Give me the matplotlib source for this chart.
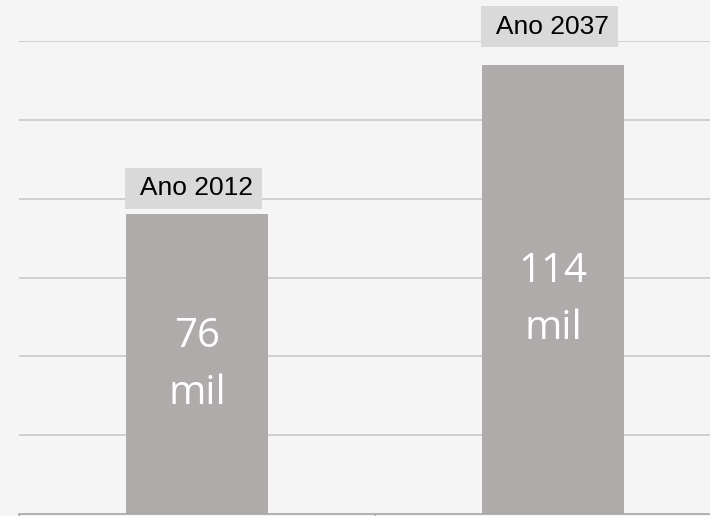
import numpy as np
import matplotlib.pyplot as plt

years = ['Ano 2012', 'Ano 2037']
values = [76, 114]
units = ['mil', 'mil']

bg = '#f5f5f5'
bar_color = '#afabaa'
label_pad = [26, 38]  # px between bar top and label box centre
text_shift = [10, 0]  # px the value text sits above the bar middle

fig = plt.figure(figsize=(7.1, 5.16), dpi=100, facecolor=bg)
ax = fig.add_axes([19/710, 2/516, 712/710, 473/516], facecolor=bg)

x = np.arange(len(values))
ax.bar(x, values, width=0.4, color=bar_color, zorder=2)

ax.set_xlim(-0.5, 1.5)
ax.set_ylim(0, 120)
ax.set_yticks(np.arange(20, 121, 20))
ax.yaxis.grid(True, color='#c6c6c6', linewidth=1.1, zorder=0)
ax.tick_params(axis='y', left=False, labelleft=False)
ax.set_xticks([-0.5, 0.5, 1.5])
ax.tick_params(axis='x', labelbottom=False, length=4, color='#a6a6a6', width=1)
for s in ['top', 'right', 'left']:
    ax.spines[s].set_visible(False)
ax.spines['bottom'].set_color('#a6a6a6')
ax.spines['bottom'].set_linewidth(1.2)

for i, v in enumerate(values):
    # value in two lines, centred in the bar
    dy = text_shift[i] * 0.72
    ax.annotate(str(v), xy=(i, v / 2), xytext=(0, 5 + dy), textcoords='offset points',
                ha='center', va='baseline', color='white', fontsize=29,
                family='Open Sans', zorder=3)
    ax.annotate(units[i], xy=(i, v / 2), xytext=(0, -35.5 + dy), textcoords='offset points',
                ha='center', va='baseline', color='white', fontsize=29,
                family='Open Sans', zorder=3)
    ax.annotate(' ' + years[i], xy=(i - 0.01, v), xytext=(0, label_pad[i] * 0.72),
                textcoords='offset points', ha='center', va='center',
                fontsize=19, family='Liberation Sans', color='black',
                annotation_clip=False,
                bbox=dict(boxstyle='square,pad=0.33', facecolor='#d9d9d9', edgecolor='none'))

fig.savefig('out.png', dpi=100, facecolor=bg)
